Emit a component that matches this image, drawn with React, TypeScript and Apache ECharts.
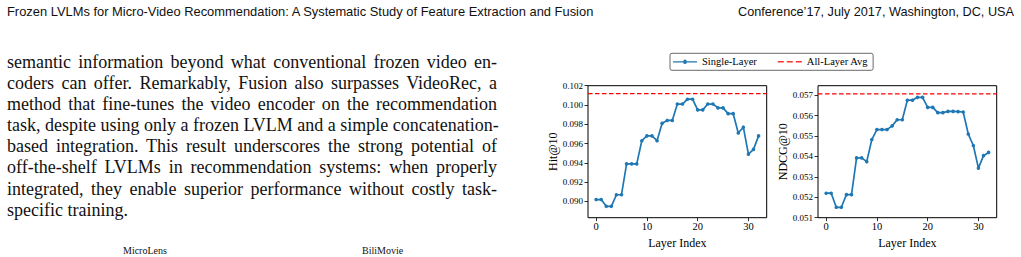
import React, { useEffect, useRef } from "react";
import * as echarts from "echarts";

const layers = [0, 1, 2, 3, 4, 5, 6, 7, 8, 9, 10, 11, 12, 13, 14, 15, 16, 17, 18, 19, 20, 21, 22, 23, 24, 25, 26, 27, 28, 29, 30, 31, 32];
const hitSingle = [0.0902, 0.0902, 0.0895, 0.0895, 0.0907, 0.0907, 0.0939, 0.0939, 0.0939, 0.0963, 0.0968, 0.0968, 0.0963, 0.0981, 0.0984, 0.0984, 0.1001, 0.1001, 0.1006, 0.1006, 0.0995, 0.0995, 0.1001, 0.1001, 0.0997, 0.0997, 0.0991, 0.0991, 0.0971, 0.0977, 0.0949, 0.0954, 0.0968];
const ndcgSingle = [0.0522, 0.0522, 0.05151, 0.05151, 0.05213, 0.05213, 0.05393, 0.05393, 0.05375, 0.05483, 0.05532, 0.05532, 0.05532, 0.0555, 0.0558, 0.0558, 0.05676, 0.05676, 0.0569, 0.0569, 0.05641, 0.05641, 0.05615, 0.05615, 0.05621, 0.05621, 0.0562, 0.05618, 0.0551, 0.05454, 0.05343, 0.05404, 0.0542];
const hitAvg = 0.10117;
const ndcgAvg = 0.05707;
const xTicks = [0, 10, 20, 30];
const hitTicks = [0.09, 0.092, 0.094, 0.096, 0.098, 0.1, 0.102];
const ndcgTicks = [0.051, 0.052, 0.053, 0.054, 0.055, 0.056, 0.057];
const seriesNames = ["Single-Layer", "All-Layer Avg"];
const yNames = ["Hit@10", "NDCG@10"];
const xName = "Layer Index";

const headerLeft = "Frozen LVLMs for Micro-Video Recommendation: A Systematic Study of Feature Extraction and Fusion";
const headerRight = "Conference\u201917, July 2017, Washington, DC, USA";
const paraLines = [
  "semantic information beyond what conventional frozen video en-",
  "coders can offer. Remarkably, Fusion also surpasses VideoRec, a",
  "method that fine-tunes the video encoder on the recommendation",
  "task, despite using only a frozen LVLM and a simple concatenation-",
  "based integration. This result underscores the strong potential of",
  "off-the-shelf LVLMs in recommendation systems: when properly",
  "integrated, they enable superior performance without costly task-",
  "specific training.",
];
const subTitles = ["MicroLens", "BiliMovie"];

const FONT = "Liberation Serif";
const XMIN = -1.6;
const XMAX = 33.6;

const ICON_SINGLE = "path://M0,1.1H10.3A1.7,1.7,0,0,1,13.7,1.1H24V2.3H13.7A1.7,1.7,0,0,1,10.3,2.3H0Z";
const ICON_AVG = "path://M0,0H5V1.2H0Z M7.5,0H12.5V1.2H7.5Z M15,0H20V1.2H15Z";

export default function App() {
  const ref = useRef<HTMLDivElement>(null);

  useEffect(() => {
    if (!ref.current) return;
    const chart = echarts.init(ref.current, null, { renderer: "svg" });
    const gridTop = 40.7;
    const gridH = 132;
    const gridW = 178.7;
    const lefts = [48, 278];
    const ranges = [
      [0.08832, 0.102],
      [0.051, 0.05747],
    ];
    const ticks = [hitTicks, ndcgTicks];
    const singles = [hitSingle, ndcgSingle];
    const avgs = [hitAvg, ndcgAvg];

    const grids = lefts.map((l) => ({
      left: l,
      top: gridTop,
      width: gridW,
      height: gridH,
      show: true,
      borderColor: "#000",
      borderWidth: 1,
      backgroundColor: "transparent",
    }));
    const xAxes = [0, 1].map((i) => ({
      type: "value",
      gridIndex: i,
      min: XMIN,
      max: XMAX,
      name: xName,
      nameLocation: "middle",
      nameGap: 15,
      nameTextStyle: { fontFamily: FONT, fontSize: 12, color: "#000", fontWeight: "normal" },
      axisLine: { show: false, onZero: false },
      axisTick: { show: true, inside: false, length: 3.5, customValues: xTicks, lineStyle: { color: "#000", width: 0.8 } },
      axisLabel: { show: true, margin: 3, customValues: xTicks, fontFamily: FONT, fontSize: 10.5, color: "#000" },
      splitLine: { show: false },
    }));
    const yAxes = [0, 1].map((i) => ({
      type: "value",
      gridIndex: i,
      min: ranges[i][0],
      max: ranges[i][1],
      name: yNames[i],
      nameLocation: "middle",
      nameRotate: 90,
      nameGap: 29,
      nameTextStyle: { fontFamily: FONT, fontSize: 12, color: "#000", fontWeight: "normal" },
      axisLine: { show: false, onZero: false },
      axisTick: { show: true, inside: false, length: 3.5, customValues: ticks[i], lineStyle: { color: "#000", width: 0.8 } },
      axisLabel: {
        show: true,
        margin: 5,
        customValues: ticks[i],
        fontFamily: FONT,
        fontSize: 9,
        color: "#000",
        formatter: (v: number) => v.toFixed(3),
      },
      splitLine: { show: false },
    }));
    const series: any[] = [];
    [0, 1].forEach((i) => {
      series.push({
        name: seriesNames[0],
        type: "line",
        xAxisIndex: i,
        yAxisIndex: i,
        data: layers.map((x, k) => [x, singles[i][k]]),
        symbol: "circle",
        symbolSize: 3.6,
        color: "#1f77b4",
        lineStyle: { color: "#1f77b4", width: 1.7 },
        itemStyle: { color: "#1f77b4" },
        z: 3,
      });
      series.push({
        name: seriesNames[1],
        type: "line",
        xAxisIndex: i,
        yAxisIndex: i,
        data: [
          [XMIN, avgs[i]],
          [XMAX, avgs[i]],
        ],
        symbol: "none",
        color: "#ff0000",
        lineStyle: { color: "#ff0000", width: 1.2, type: [4.5, 2.5] },
        z: 2,
      });
    });

    chart.setOption({
      animation: false,
      backgroundColor: "transparent",
      textStyle: { fontFamily: FONT },
      legend: {
        data: [
          { name: seriesNames[0], icon: ICON_SINGLE, itemStyle: { color: "#1f77b4" } },
          { name: seriesNames[1], icon: ICON_AVG, itemStyle: { color: "#ff3030" } },
        ],
        left: 130,
        top: 8.3,
        orient: "horizontal",
        padding: [3, 5, 3, 3],
        itemGap: 21,
        itemWidth: 24,
        itemHeight: 10,
        symbolKeepAspect: true,
        borderColor: "#444",
        borderWidth: 0.8,
        borderRadius: 2,
        textStyle: { fontFamily: FONT, fontSize: 10.5, color: "#000" },
      },
      grid: grids,
      xAxis: xAxes,
      yAxis: yAxes,
      series,
    });
    return () => chart.dispose();
  }, []);

  const sans = "'Liberation Sans', Arial, sans-serif";
  return (
    <div style={{ position: "fixed", left: 0, top: 0, width: 1021, height: 257, overflow: "hidden", background: "#fff" }}>
      <div style={{ position: "absolute", left: 7, top: 4, fontFamily: sans, fontSize: 12.9, color: "#111", whiteSpace: "nowrap", lineHeight: "16px" }}>
        {headerLeft}
      </div>
      <div style={{ position: "absolute", right: 7, top: 4, fontFamily: sans, fontSize: 12.7, color: "#111", whiteSpace: "nowrap", lineHeight: "16px" }}>
        {headerRight}
      </div>
      <div style={{ position: "absolute", left: 7, top: 52, width: 490, fontFamily: "'Liberation Serif', serif", fontSize: 18, lineHeight: "21.1px", color: "#111" }}>
        {paraLines.map((l, i) => (
          <div
            key={i}
            style={{
              textAlign: i === paraLines.length - 1 ? "left" : "justify",
              textAlignLast: i === paraLines.length - 1 ? "left" : "justify",
              whiteSpace: "nowrap",
            }}
          >
            {l}
          </div>
        ))}
      </div>
      <div style={{ position: "absolute", left: 123, top: 246, fontFamily: "'Liberation Serif', serif", fontSize: 10, color: "#111", lineHeight: "10px" }}>{subTitles[0]}</div>
      <div style={{ position: "absolute", left: 362, top: 246, fontFamily: "'Liberation Serif', serif", fontSize: 10, color: "#111", lineHeight: "10px" }}>{subTitles[1]}</div>
      <div ref={ref} style={{ position: "absolute", left: 540, top: 45, width: 481, height: 212 }} />
    </div>
  );
}
